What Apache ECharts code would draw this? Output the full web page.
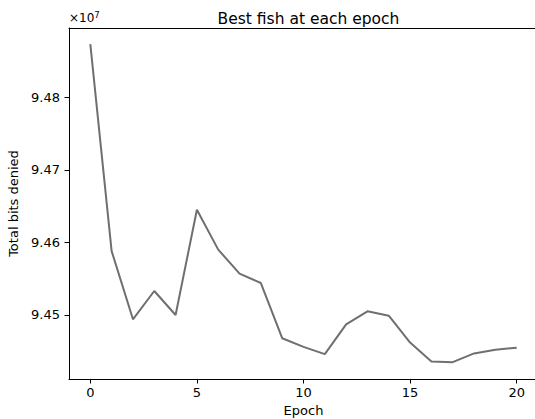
<!DOCTYPE html>
<html>
<head>
<meta charset="utf-8">
<script src="https://cdn.jsdelivr.net/npm/echarts@6/dist/echarts.min.js"></script>
<style>
  html, body { margin: 0; padding: 0; background: #fff; }
  #chart { width: 535px; height: 419px; }
</style>
</head>
<body>
<div id="chart"></div>
<script>
// values in units of 1e7 bits
var epochs = [0, 1, 2, 3, 4, 5, 6, 7, 8, 9, 10, 11, 12, 13, 14, 15, 16, 17, 18, 19, 20];
var bitsDenied = [9.4873, 9.4588, 9.4494, 9.4533, 9.4500, 9.4645, 9.4590, 9.4557, 9.4544, 9.4468,
  9.4456, 9.4446, 9.4487, 9.4505, 9.4499, 9.4462, 9.4436, 9.4435, 9.4447, 9.4452, 9.4455];
var xTicks = [0, 5, 10, 15, 20];
var yTicks = [9.45, 9.46, 9.47, 9.48];

var font = 'DejaVu Sans';
var chart = echarts.init(document.getElementById('chart'), null, { renderer: 'svg' });
chart.setOption({
  animation: false,
  textStyle: { fontFamily: font },
  title: {
    text: 'Best fish at each epoch',
    left: 303.5,
    textAlign: 'center',
    top: 6,
    textStyle: { fontFamily: font, fontSize: 15.5, fontWeight: 'normal', color: '#000' }
  },
  grid: {
    left: 69, top: 28, right: -3, bottom: 40,
    outerBoundsMode: 'none'
  },
  graphic: [{
    type: 'text',
    left: 69,
    top: 10,
    style: {
      text: '×10{s|7}',
      fontFamily: font,
      fontSize: 12,
      fill: '#000',
      rich: { s: { fontFamily: font, fontSize: 8.5, verticalAlign: 'top', padding: [0, 0, 6, 0] } }
    }
  }],
  xAxis: [{
    type: 'value',
    min: -1,
    max: 21,
    name: 'Epoch',
    nameLocation: 'middle',
    nameGap: 24,
    nameTextStyle: { fontFamily: font, fontSize: 13, color: '#000' },
    axisLine: { onZero: false, lineStyle: { color: '#000', width: 1 } },
    axisTick: { show: true, length: 4.5, customValues: xTicks, lineStyle: { color: '#000', width: 1 } },
    axisLabel: { customValues: xTicks, margin: 7, fontFamily: font, fontSize: 13, color: '#000' },
    splitLine: { show: false }
  }, {
    // top spine only
    type: 'value',
    position: 'top',
    min: -1,
    max: 21,
    axisLine: { show: true, onZero: false, lineStyle: { color: '#000', width: 1 } },
    axisTick: { show: false },
    axisLabel: { show: false },
    splitLine: { show: false }
  }],
  yAxis: {
    type: 'value',
    min: 9.44118,
    max: 9.48953,
    name: 'Total bits denied',
    nameLocation: 'middle',
    nameGap: 46,
    nameTextStyle: { fontFamily: font, fontSize: 13, color: '#000' },
    axisLine: { show: true, onZero: false, lineStyle: { color: '#000', width: 1 } },
    axisTick: { show: true, length: 4.5, customValues: yTicks, lineStyle: { color: '#000', width: 1 } },
    axisLabel: {
      customValues: yTicks, margin: 9, fontFamily: font, fontSize: 13, color: '#000',
      formatter: function(v) { return v.toFixed(2); }
    },
    splitLine: { show: false }
  },
  series: [{
    type: 'line',
    xAxisIndex: 0,
    data: epochs.map(function(e, i) { return [e, bitsDenied[i]]; }),
    showSymbol: false,
    lineStyle: { color: '#6f6f6f', width: 2 }
  }]
});
</script>
</body>
</html>
